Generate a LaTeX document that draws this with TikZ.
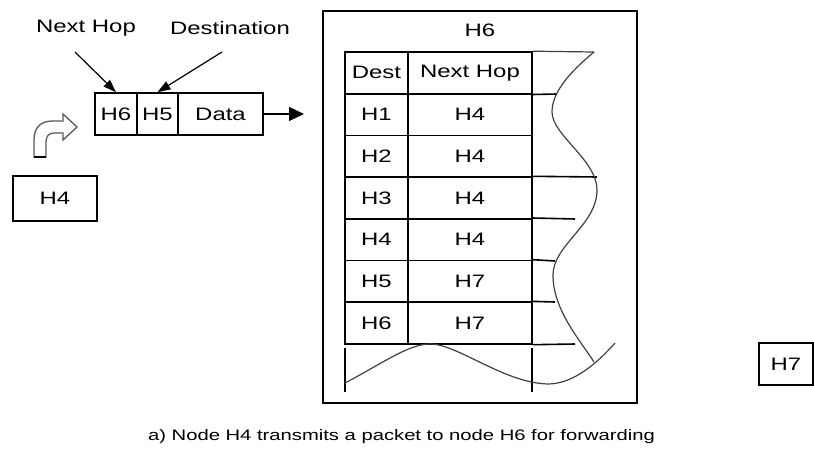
\documentclass[tikz,border=0pt]{standalone}
\usepackage{fontspec}
\setmainfont{Liberation Sans}[FakeStretch=1.33]
\usetikzlibrary{arrows.meta}

\begin{document}
\begin{tikzpicture}[x=1pt,y=-1pt,
  txt/.style={font=\fontsize{18}{20}\selectfont},
  cell/.style={draw, line width=1.6pt, txt, inner sep=0pt},
  frame/.style={draw, line width=1.6pt},
  rule/.style={draw, line width=1.6pt},
  torn/.style={draw=black!75, line width=1.2pt},
  ptr/.style={draw, line width=1.2pt, -{Triangle[length=13pt,width=9pt]}},
  sendarrow/.style={draw, line width=1.2pt, -{Triangle[length=15pt,width=14pt]}},
]
\useasboundingbox (0,0) rectangle (814,452);

% ---- packet leaving H4 ----
\node[txt, inner sep=0pt] (lnh) at (86,28) {Next Hop};
\node[txt, inner sep=0pt] (ldst) at (230,28) {Destination};

\node[cell, minimum width=42, minimum height=42] (ph) at (116,114) {H6};
\node[cell, minimum width=41, minimum height=42] (pd) at (157.5,114) {H5};
\node[cell, minimum width=85, minimum height=42] (pdata) at (220.5,114) {Data};
\coordinate (pout) at (304,114);

\path[ptr] (75,52) -- (ph.north);
\path[ptr] (222,52) -- (pd.north);
\path[sendarrow] (pdata.east) -- (pout);

% sender host and its hollow bent arrow
\node[cell, minimum width=84, minimum height=45] (h4) at (55,198.5) {H4};
\draw[draw=black!65, line width=1.3pt, fill=white]
  (34,157) -- (34,140) .. controls (34,127) and (41,121) .. (53,121)
  -- (63,121) -- (63,114) -- (77,127) -- (63,140) -- (63,133) -- (54,133)
  .. controls (49,133) and (46,136) .. (46,142) -- (46,157) -- cycle;
\draw[line width=1.6pt] (34,157) -- (46,157);

% ---- forwarding node H6 with its routing table ----
\node[frame, minimum width=314, minimum height=392, inner sep=0pt] (h6) at (480,207) {};
\node[txt, inner sep=0pt] (h6lbl) at (480,30) {H6};

\node[cell, minimum width=63, minimum height=41.7] (d0) at (376.5,72.85) {Dest};
\node[cell, minimum width=124, minimum height=41.7] (n0) at (470,72.85) {Next Hop};
\foreach \d/\n [count=\k] in {H1/H4,H2/H4,H3/H4,H4/H4,H5/H7,H6/H7}{
  \node[cell, minimum width=63, minimum height=41.7] (d\k) at (376.5,{72.85+41.7*\k}) {\d};
  \node[cell, minimum width=124, minimum height=41.7] (n\k) at (470,{72.85+41.7*\k}) {\n};
}

% torn-off right edge of the table
\draw[torn] (n0.north east) -- (594,52);
\draw[rule] (n0.south east) -- (557,94);
\draw[rule] (n3.north east) -- (597,177);
\draw[rule] (n4.north east) -- (575,219);
\draw[rule] (n5.north east) -- (555,261);
\draw[rule] (n6.north east) -- (555,302);
\draw[rule] (n6.south east) -- (575,344);

\draw[torn] (594,52) .. controls (570,72) and (552,92) .. (552,112)
  .. controls (552,135) and (597,160) .. (597,190)
  .. controls (597,225) and (553,245) .. (553,275)
  .. controls (553,310) and (580,340) .. (594,362);

% torn-off bottom edge of the table
\draw[rule] (345,348) -- (345,392);
\draw[rule] (532,348) -- (532,392);
\draw[torn] (345,383) .. controls (385,362) and (410,343) .. (432,344)
  .. controls (460,346) and (505,383) .. (548,384)
  .. controls (575,384) and (600,360) .. (615,343);

% ---- next hop H7 ----
\node[cell, minimum width=54, minimum height=42] (h7) at (786,364) {H7};

% caption
\node[font=\fontsize{15.2}{18}\selectfont, inner sep=0pt] (cap) at (401.5,437)
  {a) Node H4 transmits a packet to node H6 for forwarding};
\end{tikzpicture}
\end{document}
